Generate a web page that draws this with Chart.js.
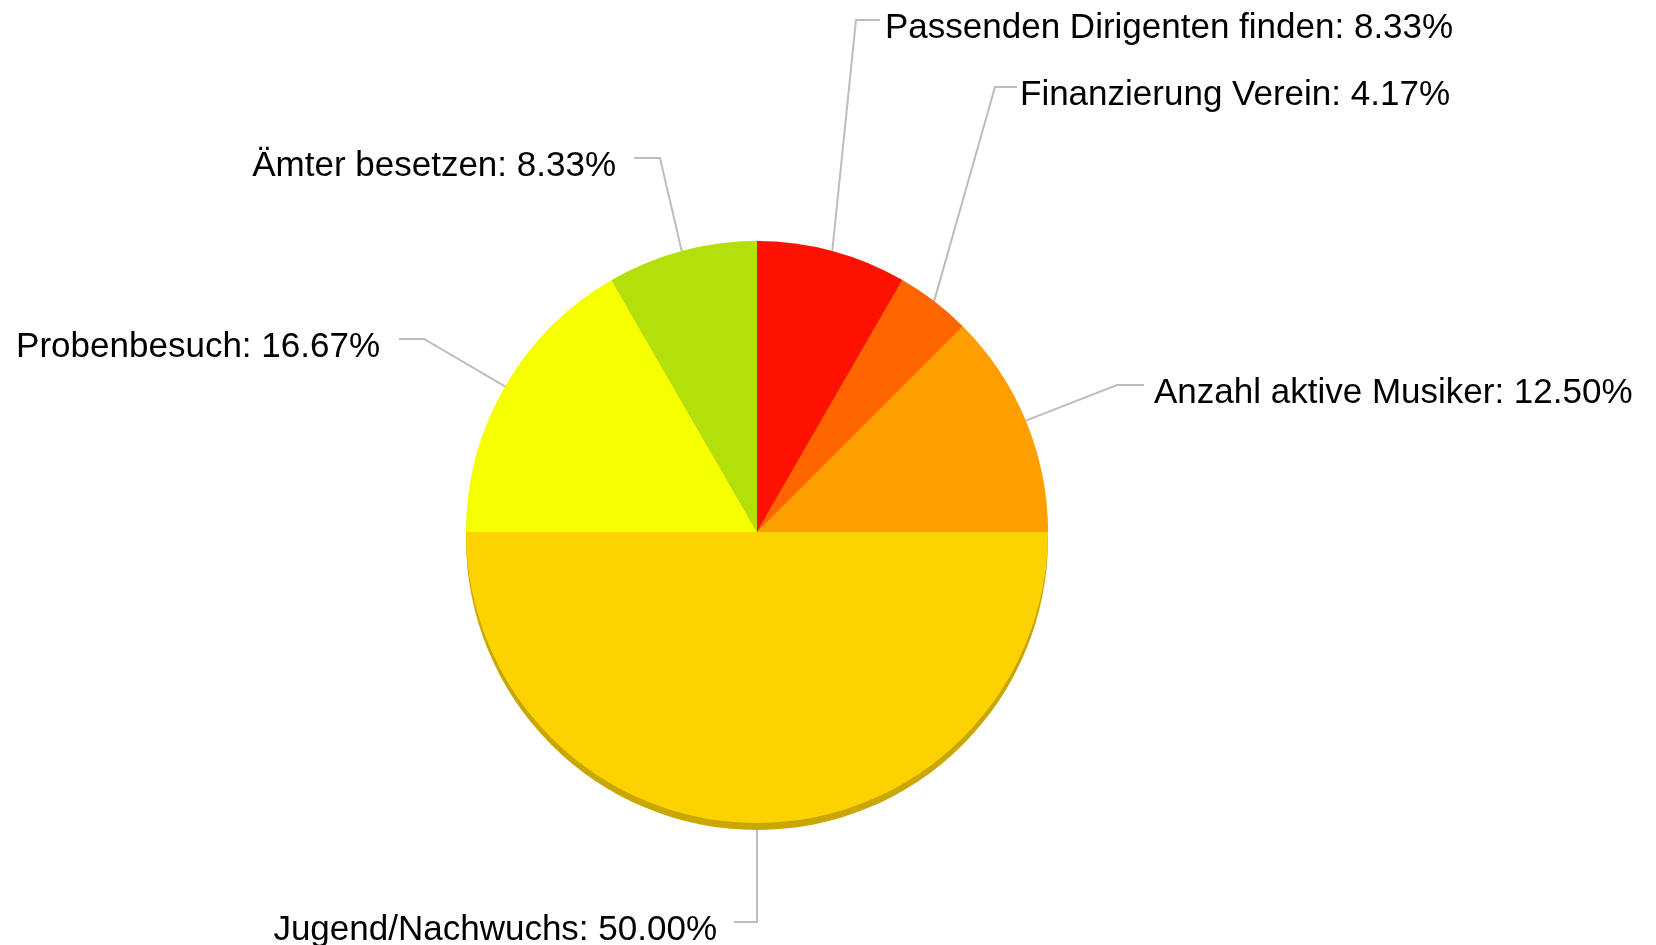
<!DOCTYPE html>
<html>
<head>
<meta charset="utf-8">
<script src="https://cdn.jsdelivr.net/npm/chart.js@4.4.1/dist/chart.umd.min.js"></script>
<style>
  html, body { margin: 0; padding: 0; background: #fff; }
  .wrap { width: 1656px; height: 945px; position: relative; }
</style>
</head>
<body>
<div class="wrap"><canvas id="pieCanvas"></canvas></div>
<script>
const categories = ['Passenden Dirigenten finden', 'Finanzierung Verein', 'Anzahl aktive Musiker', 'Jugend/Nachwuchs', 'Probenbesuch', 'Ämter besetzen'];
const shares = [8.33, 4.17, 12.50, 50.00, 16.67, 8.33];
const sliceColors = ['#ff1100', '#ff6600', '#ff9e00', '#fcd200', '#f6ff00', '#b3df0b'];

// where each leader line bends and ends, and where its text sits
const labelLayout = [
    { elbow: [856, 20], end: [880, 20], textX: 885, align: 'left' },
    { elbow: [995, 87], end: [1017, 87], textX: 1020, align: 'left' },
    { elbow: [1117, 385], end: [1144, 385], textX: 1154, align: 'left' },
    { elbow: [757, 922], end: [734, 922], textX: 717, align: 'right' },
    { elbow: [424, 339], end: [399, 339], textX: 380, align: 'right' },
    { elbow: [660, 158], end: [634, 158], textX: 616, align: 'right' },
];

const arcAnchor = (arc) => {
    const mid = (arc.startAngle + arc.endAngle) / 2;
    return [arc.x + Math.cos(mid) * arc.outerRadius, arc.y + Math.sin(mid) * arc.outerRadius];
};

const leaderPlugin = {
    id: 'leaders',
    beforeDatasetsDraw(chart) {
        const ctx = chart.ctx;
        const arcs = chart.getDatasetMeta(0).data;

        ctx.save();
        ctx.strokeStyle = '#bdbdbd';
        ctx.lineWidth = 2;
        arcs.forEach((arc, i) => {
            const [sx, sy] = arcAnchor(arc);
            const l = labelLayout[i];
            ctx.beginPath();
            ctx.moveTo(sx, sy);
            ctx.lineTo(l.elbow[0], l.elbow[1]);
            ctx.lineTo(l.end[0], l.end[1]);
            ctx.stroke();
        });

        // thin darker rim under the pie, like the 3D edge in the original
        const a = arcs[0];
        ctx.fillStyle = '#c9a600';
        ctx.beginPath();
        ctx.arc(a.x, a.y + 7, a.outerRadius, 0, Math.PI * 2);
        ctx.fill();
        ctx.restore();
    },
    afterDraw(chart) {
        const ctx = chart.ctx;
        ctx.save();
        ctx.font = '35px "Liberation Sans", Arial, sans-serif';
        ctx.fillStyle = '#000';
        ctx.textBaseline = 'alphabetic';
        categories.forEach((name, i) => {
            const l = labelLayout[i];
            ctx.textAlign = l.align;
            ctx.fillText(`${name}: ${shares[i].toFixed(2)}%`, l.textX, l.end[1] + 18);
        });
        ctx.restore();
    }
};

const ctx = document.getElementById('pieCanvas').getContext('2d');
const chart = new Chart(ctx, {
    type: 'pie',
    data: {
        labels: categories,
        datasets: [{
            data: shares,
            backgroundColor: sliceColors,
            borderWidth: 0
        }]
    },
    options: {
        responsive: true,
        maintainAspectRatio: false,
        animation: false,
        layout: { padding: { left: 466, right: 608, top: 241, bottom: 122 } },
        plugins: {
            legend: { display: false },
            tooltip: { enabled: false }
        }
    },
    plugins: [leaderPlugin]
});
</script>
</body>
</html>
